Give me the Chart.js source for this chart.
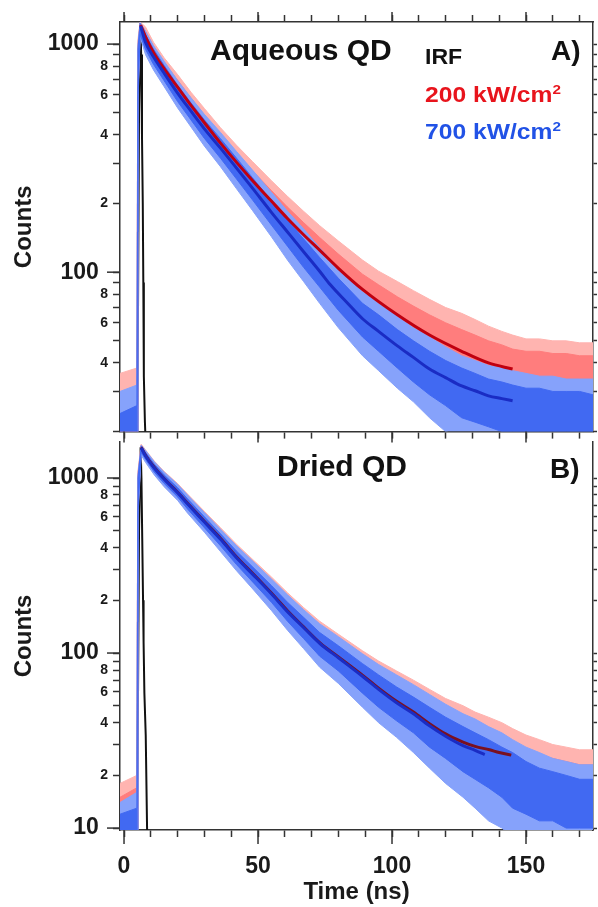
<!DOCTYPE html>
<html>
<head>
<meta charset="utf-8">
<script src="https://cdn.jsdelivr.net/npm/chart.js@4.4.1/dist/chart.umd.min.js"></script>
<style>
  html, body { margin: 0; padding: 0; background: #fff; }
  #wrap { position: relative; width: 598px; height: 907px; overflow: hidden;
          font-family: 'Liberation Sans', Arial, sans-serif; font-weight: bold; }
  canvas { position: absolute; left: 0; }
  #chartA { top: 0; }
  #chartB { top: 423px; }
  .lbl { position: absolute; line-height: 1; white-space: nowrap; transform-origin: left top; }
  .lbl sup { font-size: 0.62em; vertical-align: 0.62em; line-height: 0; }
</style>
</head>
<body>
<div id="wrap">
  <canvas id="chartA" width="598" height="445"></canvas>
  <canvas id="chartB" width="598" height="484"></canvas>
  <div class="lbl" style="left:210px;top:35px;font-size:30px;color:#111">Aqueous QD</div>
  <div class="lbl" style="left:551px;top:37px;font-size:28px;color:#111">A)</div>
  <div class="lbl" style="left:425px;top:46px;font-size:22px;color:#111;transform:scaleX(1.05)">IRF</div>
  <div class="lbl" style="left:425px;top:84px;font-size:22px;color:#e8141c;transform:scaleX(1.12)">200 kW/cm<sup>2</sup></div>
  <div class="lbl" style="left:425px;top:121px;font-size:22px;color:#2152e6;transform:scaleX(1.12)">700 kW/cm<sup>2</sup></div>
  <div class="lbl" style="left:277px;top:451px;font-size:30px;color:#111">Dried QD</div>
  <div class="lbl" style="left:550px;top:455px;font-size:28px;color:#111">B)</div>
</div>
<script>
// ---- axis ticks ----
const timeTicks = [0, 10, 20, 30, 40, 50, 60, 70, 80, 90, 100, 110, 120, 130, 140, 150, 160, 170];
const timeLabels = [0, 50, 100, 150];
const countTicksA = [20, 30, 40, 50, 60, 70, 80, 90, 100, 200, 300, 400, 500, 600, 700, 800, 900, 1000];
const countTicksB = [10, 20, 30, 40, 50, 60, 70, 80, 90, 100, 200, 300, 400, 500, 600, 700, 800, 900, 1000];
const decades = [10, 100, 1000];
const labelledMantissas = [2, 4, 6, 8];

// ---- panel A: aqueous QD (noise read as a dense core and a lighter fringe) ----
const timeA = [-1.5, 4.8, 5.0, 5.2, 6.0, 8, 11, 15, 20, 25, 30, 36, 42, 48, 55, 61, 67, 73, 80, 89,
  95, 102, 108, 114, 120, 126, 131, 136, 141, 145, 150, 155, 160, 165, 170, 175];
const redCoreHighA = [28, 30, 200, 1000, 1240, 1140, 975, 830, 695, 580, 488, 400, 332, 278, 228, 193, 165, 142, 120, 98,
  88, 78, 71, 65, 60, 56, 53, 50, 48, 46, 45, 45, 44, 44, 43, 43];
const redCoreLowA = [20, 20, 20, 650, 1130, 1020, 865, 730, 605, 503, 418, 338, 277, 230, 186, 155, 130, 110, 90, 71,
  62, 53, 47, 42, 38, 35, 33, 31, 30, 29, 29, 28, 28, 28, 28, 27];
const redFringeHighA = [36, 38, 300, 1050, 1250, 1190, 1020, 870, 735, 615, 522, 430, 360, 305, 252, 215, 185, 160, 137, 113,
  101, 91, 83, 76, 70, 66, 62, 58, 55, 53, 51, 51, 50, 50, 49, 49];
const redFringeLowA = [19, 19, 19, 600, 1100, 960, 810, 680, 560, 462, 380, 305, 248, 204, 163, 135, 112, 93, 76, 58,
  50, 42, 37, 32, 29, 27, 26, 25, 24, 23, 23, 22, 22, 22, 22, 22];
const blueCoreHighA = [24, 26, 150, 950, 1230, 1100, 950, 805, 660, 552, 465, 385, 316, 259, 205, 169, 140, 116, 94, 73,
  65, 56, 50, 45, 41, 38, 36, 34, 33, 32, 31, 31, 30, 30, 30, 29];
const blueCoreLowA = [20, 20, 20, 600, 1100, 950, 815, 690, 560, 465, 386, 316, 256, 207, 161, 130, 105, 86, 68, 52,
  45, 38, 33, 29, 26, 23, 22, 21, 20, 20, 20, 20, 20, 20, 20, 20];
const blueFringeHighA = [30, 32, 250, 1000, 1245, 1140, 985, 840, 692, 582, 492, 410, 338, 280, 224, 185, 155, 128, 104, 82,
  73, 64, 57, 52, 47, 43, 41, 39, 38, 37, 36, 35, 35, 34, 34, 34];
const blueFringeLowA = [19, 19, 19, 550, 1080, 900, 770, 650, 525, 433, 357, 290, 232, 186, 143, 113, 91, 73, 57, 43,
  37, 31, 27, 23, 20, 19, 19, 19, 19, 19, 19, 19, 19, 19, 19, 19];
const fitTimeRedA = [6.2, 8, 11, 15, 20, 24, 30, 36, 42, 48, 55, 61, 67, 73, 80, 89, 102, 114, 126, 136, 145];
const fitRedA = [1213, 1079, 918, 778, 647, 558, 452, 368, 303, 252, 205, 172, 146, 125, 104, 84, 65, 53, 45, 40, 37.6];
const fitTimeBlueA = [6.2, 8, 11, 15, 20, 25, 30, 36, 42, 48, 55, 61, 67, 73, 77, 83, 89, 95, 102, 108, 114, 120, 126, 131, 136, 141, 145];
const fitBlueA = [1200, 1020, 880, 745, 610, 508, 425, 350, 286, 233, 183, 150, 123, 101, 88, 74, 62.5, 55, 47.5, 42.3, 37.6, 34.5, 31.7, 30.2, 28.7, 27.9, 27.3];
const irfTimeA = [4.6, 5.2, 5.6, 6.1, 6.4, 6.7, 7.0, 7.2, 7.4, 7.8, 8.3, 8.8];
const irfA = [10, 60, 500, 1240, 900, 400, 200, 90, 35, 22, 15, 8];

// ---- panel B: dried QD ----
const timeB = [-1.5, 4.8, 5.0, 5.2, 6.4, 8, 11.3, 15, 20, 23.7, 30, 36, 42, 48.5, 55, 61, 67, 73, 80, 89,
  95, 101.7, 108, 114, 120, 126.5, 131, 136, 141, 145, 150, 155, 160, 165, 170, 175];
const redCoreHighB = [15, 17, 200, 1050, 1540, 1410, 1210, 1050, 890, 770, 610, 490, 390, 312, 250, 201, 165, 136, 114, 91,
  79, 68, 60, 53, 47, 42, 39, 36, 33, 31, 28, 26, 25, 24, 23, 23];
const redCoreLowB = [10, 10, 10, 700, 1420, 1290, 1090, 940, 790, 675, 530, 418, 328, 258, 202, 158, 127, 101, 84, 63,
  53, 45, 39, 33, 29, 25, 23, 21, 19, 17, 15, 14, 13, 13, 12, 12];
const redFringeHighB = [18, 20, 300, 1100, 1560, 1450, 1250, 1090, 930, 810, 645, 520, 418, 337, 272, 221, 182, 152, 128, 103,
  90, 79, 70, 62, 55, 50, 46, 43, 40, 37, 34, 32, 30, 29, 28, 28];
const redFringeLowB = [9, 9, 9, 650, 1380, 1250, 1050, 900, 755, 640, 500, 390, 303, 236, 182, 142, 112, 89, 72, 53,
  44, 37, 31, 26, 22, 19, 17, 15, 13, 12, 11, 10, 10, 9, 9, 9];
const blueCoreHighB = [12, 13, 150, 1000, 1520, 1400, 1200, 1040, 880, 760, 600, 480, 382, 305, 243, 195, 160, 131, 110, 87,
  75, 64, 56, 49, 43, 38, 35, 32, 29, 27, 24, 22, 21, 20, 19, 19];
const blueCoreLowB = [9, 9, 9, 650, 1400, 1280, 1080, 930, 780, 665, 520, 410, 320, 250, 195, 152, 121, 96, 79, 59,
  49, 41, 35, 29, 25, 21, 19, 17, 15, 13, 12, 11, 11, 10, 10, 10];
const blueFringeHighB = [14, 16, 250, 1050, 1540, 1440, 1240, 1080, 920, 800, 635, 510, 410, 330, 265, 215, 177, 147, 124, 99,
  86, 75, 66, 58, 51, 45, 42, 38, 35, 32, 29, 27, 25, 24, 23, 23];
const blueFringeLowB = [9, 9, 9, 600, 1350, 1230, 1040, 890, 745, 630, 490, 380, 295, 228, 175, 135, 106, 83, 67, 49,
  40, 33, 27, 22, 18, 15, 13, 11, 10, 9, 9, 9, 9, 9, 9, 9];
const fitTimeBlueB = [6.4, 8, 11.3, 15, 20, 23.7, 30, 36.1, 42, 48.5, 55, 60.9, 67, 73.2, 80, 89.3, 95, 101.7, 108, 114, 120, 126.5, 131, 134.6];
const fitBlueB = [1490, 1340, 1141, 985, 825, 713, 560, 445, 350, 277, 218, 173, 140, 113, 94, 73, 62, 52, 45, 38.4, 33.5, 29.6, 27.8, 26.3];
const fitTimeRedB = [6.4, 8, 11.3, 15, 20, 23.7, 30, 36.1, 42, 48.5, 55, 60.9, 67, 73.2, 80, 89.3, 95, 101.7, 108, 114, 120, 126.5, 131, 136.4, 140, 144.5];
const fitRedB = [1500, 1350, 1150, 990, 830, 718, 565, 450, 354, 280, 220, 175, 141, 114, 95, 74, 63, 53, 46, 39.5, 34.5, 31, 29.3, 28, 27, 26.1];
const irfTimeB = [4.6, 5.2, 5.6, 6.2, 6.5, 6.8, 7.1, 7.3, 7.6, 8.1, 8.6, 9.0];
const irfB = [5, 50, 500, 1500, 1000, 450, 200, 116, 59, 34, 10, 5];

// ---- styling ----
Chart.defaults.font.family = "'Liberation Sans', Arial, sans-serif";
Chart.defaults.font.weight = 'bold';
Chart.defaults.color = '#1a1a1a';

const axisColor = '#333';
const redCore = '#ff7d7d';
const redFringe = '#ffb4b0';
const blueCore = '#4169f2';
const blueFringe = '#86a2fb';
const redFit = '#c00010';
const blueFit = '#1a2cc4';

function xy(t, v) { return t.map((x, i) => ({ x: x, y: v[i] })); }

// longer tick marks for decades / every 50 ns
const longTicks = {
  id: 'longTicks',
  afterDraw(chart, args, opts) {
    const ctx = chart.ctx;
    ctx.save();
    ctx.strokeStyle = axisColor;
    ctx.lineWidth = 1.5;
    (opts.items || []).forEach(item => {
      const s = chart.scales[item.scale];
      item.values.forEach(v => {
        if (v < s.min || v > s.max) return;
        const p = s.getPixelForValue(v);
        ctx.beginPath();
        if (s.position === 'left') { ctx.moveTo(s.right, p); ctx.lineTo(s.right - item.len, p); }
        if (s.position === 'bottom') { ctx.moveTo(p, s.top); ctx.lineTo(p, s.top + item.len); }
        if (s.position === 'top') { ctx.moveTo(p, s.bottom); ctx.lineTo(p, s.bottom - item.len); }
        ctx.stroke();
      });
    });
    ctx.restore();
  }
};

function countLabel(v) {
  if (v === this.min) return '';
  if (decades.includes(v)) return v + '\u2009\u2009';
  const m = Math.round(v / Math.pow(10, Math.floor(Math.log10(v) + 1e-9)));
  return labelledMantissas.includes(m) ? String(m) : '';
}

function gridOpts(len) {
  return { drawOnChartArea: false, tickLength: len, tickColor: axisColor, tickWidth: 1.5 };
}
const borderOpts = { color: axisColor, width: 1.5 };

function band(data, color, order, fill) {
  return { data: data, borderColor: color, backgroundColor: color, borderWidth: 1,
    pointRadius: 0, tension: 0, fill: fill, order: order };
}
function fitLine(data, color, order) {
  return { data: data, borderColor: color, borderWidth: 3, pointRadius: 0, fill: false,
    cubicInterpolationMode: 'monotone', order: order };
}

function timeAxis(position, height, extra) {
  return Object.assign({
    type: 'linear', position: position, min: -1.5, max: 175,
    afterBuildTicks: s => { s.ticks = timeTicks.map(v => ({ value: v })); },
    afterFit: s => { s.height = height; },
    grid: gridOpts(7), border: borderOpts,
    ticks: { display: false, autoSkip: false }
  }, extra || {});
}

function countAxes(min, max, list) {
  return {
    y: {
      type: 'logarithmic', position: 'left', min: min, max: max,
      afterBuildTicks: s => { s.ticks = list.map(v => ({ value: v })); },
      afterFit: s => { s.width = 120; },
      grid: gridOpts(7), border: borderOpts,
      ticks: {
        autoSkip: false, padding: 5, color: '#1a1a1a', callback: countLabel,
        font: c => ({ size: (c.tick && decades.includes(c.tick.value)) ? 23 : 14, weight: 'bold' })
      },
      title: { display: true, text: 'Counts', color: '#1a1a1a', font: { size: 24, weight: 'bold' }, padding: { top: 10, bottom: 0 } }
    },
    yRight: {
      type: 'logarithmic', position: 'right', min: min, max: max,
      afterBuildTicks: s => { s.ticks = list.map(v => ({ value: v })); },
      afterFit: s => { s.width = 5; },
      grid: gridOpts(4), border: borderOpts,
      ticks: { display: false, autoSkip: false }
    }
  };
}

new Chart(document.getElementById('chartA'), {
  type: 'line',
  data: { datasets: [
    { data: xy(irfTimeA, irfA), borderColor: '#111', borderWidth: 2, pointRadius: 0, fill: false, order: 9 },
    band(xy(timeA, redFringeLowA), redFringe, 8, false),
    band(xy(timeA, redFringeHighA), redFringe, 8, '-1'),
    band(xy(timeA, redCoreLowA), redCore, 7, false),
    band(xy(timeA, redCoreHighA), redCore, 7, '-1'),
    band(xy(timeA, blueFringeLowA), blueFringe, 6, false),
    band(xy(timeA, blueFringeHighA), blueFringe, 6, '-1'),
    band(xy(timeA, blueCoreLowA), blueCore, 5, false),
    band(xy(timeA, blueCoreHighA), blueCore, 5, '-1'),
    fitLine(xy(fitTimeRedA, fitRedA), redFit, 2),
    fitLine(xy(fitTimeBlueA, fitBlueA), blueFit, 1)
  ] },
  plugins: [longTicks],
  options: {
    responsive: false, animation: false,
    layout: { padding: 0 },
    plugins: {
      legend: { display: false }, tooltip: { enabled: false },
      longTicks: { items: [
        { scale: 'y', values: decades, len: 13 },
        { scale: 'x', values: timeLabels, len: 11 },
        { scale: 'xTop', values: timeLabels, len: 10 }
      ] }
    },
    scales: Object.assign({
      x: timeAxis('bottom', 12),
      xTop: timeAxis('top', 22)
    }, countAxes(20, 1250, countTicksA))
  }
});

new Chart(document.getElementById('chartB'), {
  type: 'line',
  data: { datasets: [
    { data: xy(irfTimeB, irfB), borderColor: '#111', borderWidth: 2, pointRadius: 0, fill: false, order: 9 },
    band(xy(timeB, redFringeLowB), redFringe, 8, false),
    band(xy(timeB, redFringeHighB), redFringe, 8, '-1'),
    band(xy(timeB, redCoreLowB), redCore, 7, false),
    band(xy(timeB, redCoreHighB), redCore, 7, '-1'),
    band(xy(timeB, blueFringeLowB), blueFringe, 6, false),
    band(xy(timeB, blueFringeHighB), blueFringe, 6, '-1'),
    band(xy(timeB, blueCoreLowB), blueCore, 5, false),
    band(xy(timeB, blueCoreHighB), blueCore, 5, '-1'),
    fitLine(xy(fitTimeRedB, fitRedB), '#7a1020', 2),
    fitLine(xy(fitTimeBlueB, fitBlueB), blueFit, 1)
  ] },
  plugins: [longTicks],
  options: {
    responsive: false, animation: false,
    layout: { padding: { top: 10 } },
    plugins: {
      legend: { display: false }, tooltip: { enabled: false },
      longTicks: { items: [
        { scale: 'y', values: decades, len: 13 },
        { scale: 'x', values: timeLabels, len: 14 }
      ] }
    },
    scales: Object.assign({
      x: timeAxis('bottom', 77, {
        ticks: {
          display: true, autoSkip: false, maxRotation: 0, padding: 16, color: '#1a1a1a',
          font: { size: 23, weight: 'bold' },
          callback: v => timeLabels.includes(v) ? String(v) : ''
        },
        title: { display: true, text: 'Time (ns)', color: '#1a1a1a', font: { size: 24, weight: 'bold' }, padding: { top: 0, bottom: 0 } }
      })
    }, countAxes(9.75, 1610, countTicksB))
  }
});
</script>
</body>
</html>
